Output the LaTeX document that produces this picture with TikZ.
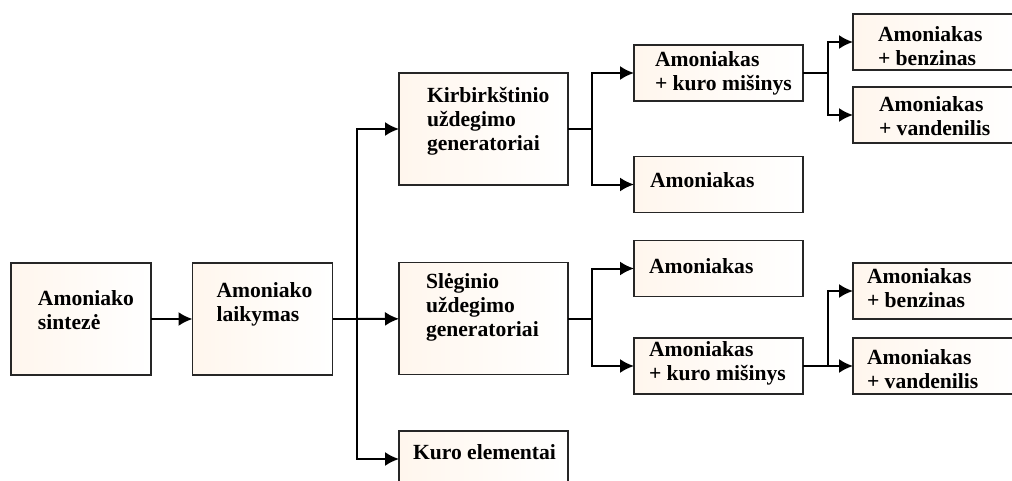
\documentclass[tikz,border=0pt]{standalone}
\usepackage{fontspec}
\setmainfont{Liberation Serif}
\usetikzlibrary{calc,arrows.meta}
\tikzset{
    blk/.style = {
        draw=black!85, line width=0.75pt, rectangle,
        left color=orange!7, right color=white,
        outer sep=0,
        inner sep=0,
        minimum width=84.5pt,
        minimum height=56pt
    },
    half/.style = {
        blk, minimum height=28pt
    },
    txt/.style = {
        anchor=north west, align=left,
        outer sep=0,
        inner sep=0,
        font=\fontsize{10.8}{12}\selectfont\bfseries
    },
    link/.style = {
        line width=1pt, -{Latex[length=7pt,width=7pt]}
    }
}

\begin{document}
\begin{tikzpicture}[x=0.5pt,y=-0.5pt]

\useasboundingbox (0,0) rectangle (1012,481);
\clip (0,0) rectangle (1012,481);

% 1. boxes
\node[blk,minimum width=70pt] (sint) at (81,319)    {};
\node[blk,minimum width=70pt] (laik) at (262.5,319) {};
\node[blk]  (kib)  at (483.5,129)   {};
\node[blk]  (sleg) at (483.5,318.5) {};
\node[half] (kuro) at (483.5,459)   {};
\node[half] (mis1) at (718.5,73)    {};
\node[half] (amo1) at (718.5,184.5) {};
\node[half] (ben1) at (937.5,42)    {};
\node[half] (van1) at (937.5,115)   {};
\node[half] (amo2) at (718.5,268.5) {};
\node[half] (mis2) at (718.5,366)   {};
\node[half] (ben2) at (937.5,291)   {};
\node[half] (van2) at (937.5,366)   {};

% 2. texts
\node[txt] (sintT) at ($(sint.north west)+(27,28)$) {Amoniako\\sintezė};
\node[txt] (laikT) at ($(laik.north west)+(24,20)$) {Amoniako\\laikymas};
\node[txt] (kibT)  at ($(kib.north west)+(28,14)$)  {Kirbirkštinio\\uždegimo\\generatoriai};
\node[txt] (slegT) at ($(sleg.north west)+(27,11)$) {Slėginio\\uždegimo\\generatoriai};
\node[txt] (kuroT) at ($(kuro.north west)+(14,14)$) {Kuro elementai};
\node[txt] (mis1T) at ($(mis1.north west)+(21,7)$)  {Amoniakas\\+ kuro mišinys};
\node[txt] (amo1T) at ($(amo1.north west)+(16,16)$) {Amoniakas};
\node[txt] (ben1T) at ($(ben1.north west)+(25,13)$) {Amoniakas\\+ benzinas};
\node[txt] (van1T) at ($(van1.north west)+(26,10)$) {Amoniakas\\+ vandenilis};
\node[txt] (amo2T) at ($(amo2.north west)+(15,18)$) {Amoniakas};
\node[txt] (mis2T) at ($(mis2.north west)+(15,4)$)  {Amoniakas\\+ kuro mišinys};
\node[txt] (ben2T) at ($(ben2.north west)+(14,6)$)  {Amoniakas\\+ benzinas};
\node[txt] (van2T) at ($(van2.north west)+(14,12)$) {Amoniakas\\+ vandenilis};

% 3. branch points
\coordinate (j0) at (357,319);
\coordinate (j1) at (592,129);
\coordinate (j2) at (828,73);
\coordinate (j3) at (592,318.5);
\coordinate (j4) at (828,366);

% 4. arrows
\draw[link] (sint) -- (laik);
\draw[line width=1pt] (laik) -- (j0);
\draw[link] (j0) |- (kib);
\draw[link] (j0) -- (sleg);
\draw[link] (j0) |- (kuro);

\draw[line width=1pt] (kib) -- (j1);
\draw[link] (j1) |- (mis1);
\draw[link] (j1) |- (amo1);
\draw[line width=1pt] (mis1) -- (j2);
\draw[link] (j2) |- (ben1);
\draw[link] (j2) |- (van1);

\draw[line width=1pt] (sleg) -- (j3);
\draw[link] (j3) |- (amo2);
\draw[link] (j3) |- (mis2);
\draw[line width=1pt] (mis2) -- (j4);
\draw[link] (j4) |- (ben2);
\draw[link] (j4) -- (van2);

\end{tikzpicture}
\end{document}
